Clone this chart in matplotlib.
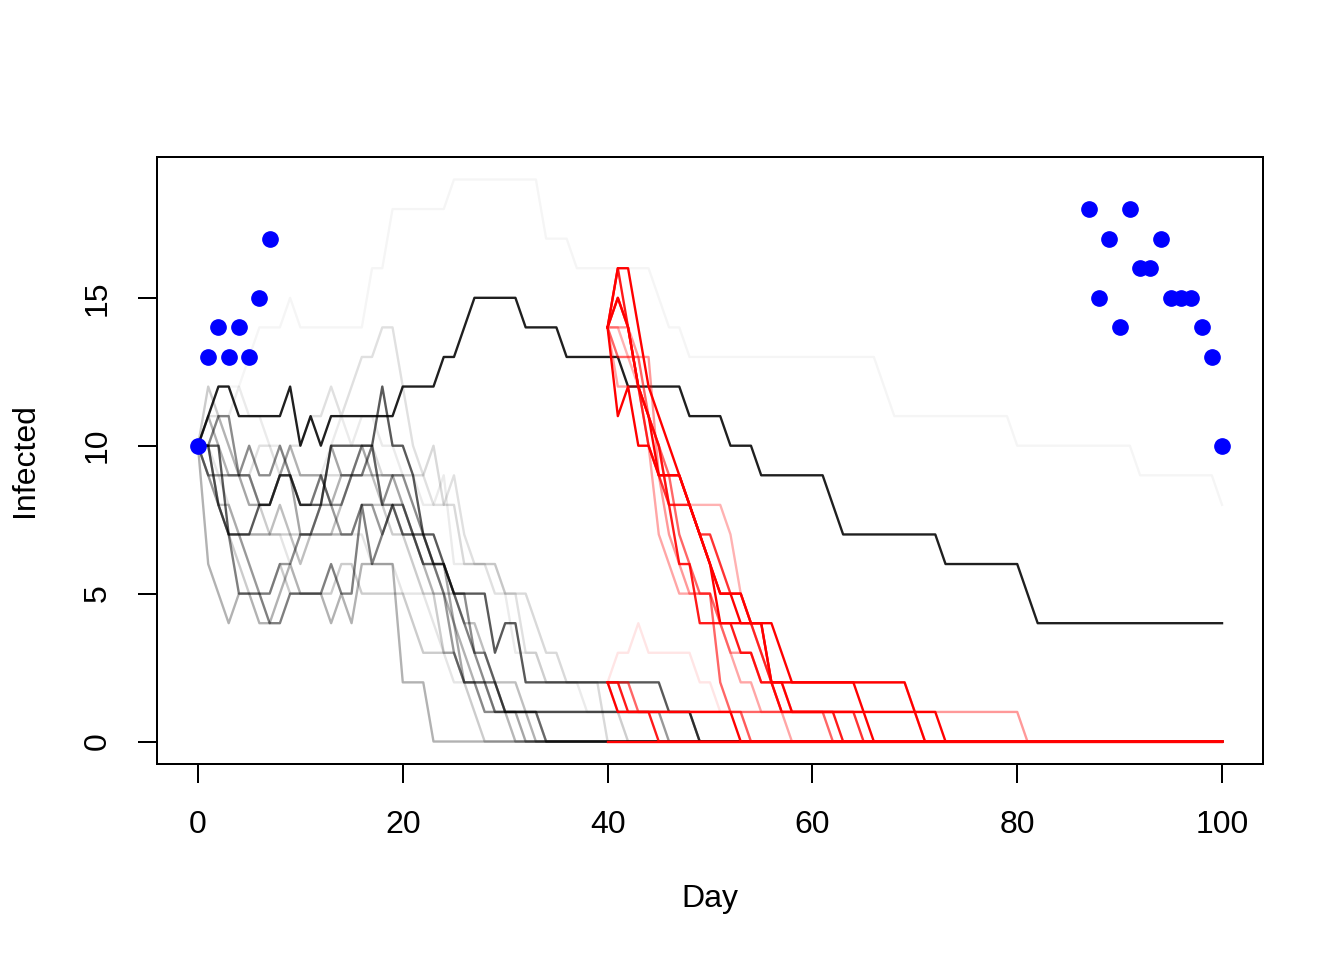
import numpy as np
import matplotlib
matplotlib.use("Agg")
import matplotlib.pyplot as plt

plt.rcParams['font.family'] = ['Liberation Sans', 'DejaVu Sans']

# observed counts (blue dots)
obs_days_early = [0, 1, 2, 3, 4, 5, 6, 7]
obs_vals_early = [10, 13, 14, 13, 14, 13, 15, 17]
obs_days_late = [87, 88, 89, 90, 91, 92, 93, 94, 95, 96, 97, 98, 99, 100]
obs_vals_late = [18, 15, 17, 14, 18, 16, 16, 17, 15, 15, 15, 14, 13, 10]

# best trajectory, days 0..100
best_run = [10, 11, 12, 12, 11, 11, 11, 11, 11, 12,
            10, 11, 10, 11, 11, 11, 11, 11, 11, 11,
            12, 12, 12, 12, 13, 13, 14, 15, 15, 15,
            15, 15, 14, 14, 14, 14, 13, 13, 13, 13,
            13, 13, 12, 12, 12, 12, 12, 12, 11, 11,
            11, 11, 10, 10, 10, 9, 9, 9, 9, 9,
            9, 9, 8, 7, 7, 7, 7, 7, 7, 7,
            7, 7, 7, 6, 6, 6, 6, 6, 6, 6,
            6, 5, 4, 4, 4, 4, 4, 4, 4, 4,
            4, 4, 4, 4, 4, 4, 4, 4, 4, 4, 4]

# very faint run that stays high, days 0..100
high_run = [10, 11, 12, 12, 12, 13, 14, 14, 14, 15,
            14, 14, 14, 14, 14, 14, 14, 16, 16, 18,
            18, 18, 18, 18, 18, 19, 19, 19, 19, 19,
            19, 19, 19, 19, 17, 17, 17, 16, 16, 16,
            16, 16, 16, 16, 16, 15, 14, 14, 13, 13,
            13, 13, 13, 13, 13, 13, 13, 13, 13, 13,
            13, 13, 13, 13, 13, 13, 13, 12, 11, 11,
            11, 11, 11, 11, 11, 11, 11, 11, 11, 11,
            10, 10, 10, 10, 10, 10, 10, 10, 10, 10,
            10, 10, 9, 9, 9, 9, 9, 9, 9, 9, 8]

# grey runs from day 0 (zero after the last value)
grey_runs = [
    [10, 10, 10, 7, 7, 7, 8, 8, 9, 9, 8, 8, 8, 10, 10, 10, 10, 10, 12, 10,
     10, 9, 7, 7, 6, 5, 5, 5, 5, 3, 4, 4, 2, 2, 2, 2, 2, 2, 2, 2,
     2, 2, 2, 2, 2, 2, 1, 1, 1, 0],
    [10, 10, 11, 11, 9, 10, 9, 9, 10, 9, 8, 8, 9, 8, 8, 9, 9, 10, 8, 9,
     9, 8, 7, 6, 6, 5, 5, 3, 2, 2, 1, 1, 1, 1, 0],
    [10, 10, 8, 7, 5, 5, 5, 4, 4, 5, 5, 5, 5, 6, 5, 5, 8, 6, 7, 8,
     7, 7, 7, 6, 6, 5, 4, 3, 3, 2, 1, 1, 1, 1, 1, 1, 1, 1, 1, 1,
     1, 1, 1, 1, 1, 1, 1, 1, 1, 0],
    [10, 9, 9, 9, 9, 8, 8, 8, 9, 9, 7, 7, 8, 10, 9, 9, 10, 9, 9, 9,
     8, 7, 6, 6, 6, 4, 2, 2, 2, 1, 1, 1, 0],
    [10, 6, 5, 4, 5, 5, 4, 4, 5, 6, 5, 5, 5, 4, 5, 4, 6, 6, 6, 6,
     2, 2, 2, 0],
    [10, 12, 11, 10, 9, 9, 8, 7, 7, 7, 7, 7, 7, 7, 7, 7, 8, 8, 8, 7,
     7, 6, 5, 5, 3, 3, 2, 2, 2, 2, 1, 0],
    [10, 9, 9, 9, 9, 9, 8, 8, 9, 9, 8, 8, 9, 9, 9, 9, 9, 10, 9, 9,
     9, 9, 9, 10, 8, 8, 6, 6, 6, 6, 5, 5, 5, 4, 3, 3, 2, 2, 2, 2, 0],
    [10, 11, 11, 10, 9, 9, 10, 10, 9, 10, 10, 11, 11, 12, 11, 12, 13, 13, 14, 14,
     12, 10, 9, 8, 8, 9, 7, 6, 6, 5, 5, 5, 3, 3, 2, 2, 2, 2, 2, 2,
     2, 1, 0],
    [10, 10, 9, 8, 7, 7, 7, 7, 7, 6, 7, 7, 7, 7, 7, 7, 7, 6, 6, 6,
     5, 5, 5, 4, 3, 2, 2, 2, 1, 1, 1, 0],
    [10, 9, 8, 8, 7, 7, 7, 7, 8, 7, 6, 7, 7, 7, 8, 9, 9, 9, 8, 8,
     8, 7, 7, 6, 5, 5, 4, 4, 3, 2, 2, 2, 1, 1, 0],
    [10, 10, 8, 7, 7, 6, 5, 5, 6, 6, 7, 7, 8, 8, 7, 7, 8, 8, 7, 8,
     8, 7, 6, 6, 5, 3, 2, 2, 1, 1, 1, 1, 1, 1, 1, 1, 1, 1, 1, 1,
     1, 1, 1, 1, 1, 1, 0],
    [10, 10, 11, 11, 12, 11, 11, 10, 10, 9, 9, 9, 9, 10, 11, 10, 11, 11, 10, 10,
     9, 9, 8, 8, 9, 6, 6, 6, 6, 6, 5, 3, 3, 3, 2, 2, 2, 2, 1, 1,
     1, 1, 0],
    [10, 9, 8, 7, 6, 5, 5, 5, 6, 5, 5, 5, 5, 5, 6, 6, 5, 5, 5, 5,
     5, 4, 3, 3, 3, 3, 2, 1, 0],
    [10, 11, 10, 9, 9, 9, 8, 8, 9, 10, 9, 9, 9, 8, 9, 9, 10, 10, 8, 8,
     7, 7, 6, 5, 5, 4, 3, 2, 2, 1, 1, 1, 1, 0],
]
grey_alpha = [0.65, 0.45, 0.5, 0.35, 0.3, 0.2, 0.15, 0.12, 0.1, 0.25, 0.4, 0.08, 0.2, 0.3]

# red runs restarted at day 40
red_runs = [
    [0],
    [14, 16, 16, 14, 12, 11, 10, 9, 8, 7, 6, 5, 5, 4, 4, 4, 4, 3, 2, 2,
     2, 2, 2, 2, 2, 2, 2, 2, 2, 2, 1, 1, 1, 0],
    [14, 11, 12, 10, 10, 9, 9, 9, 8, 7, 6, 4, 4, 4, 4, 4, 2, 2, 2, 2,
     2, 2, 2, 2, 2, 1, 1, 1, 1, 1, 1, 0],
    [14, 15, 14, 12, 11, 9, 9, 9, 8, 7, 6, 5, 5, 5, 4, 4, 2, 2, 1, 1,
     1, 1, 1, 1, 1, 1, 0],
    [14, 16, 14, 12, 11, 10, 8, 6, 6, 4, 4, 4, 4, 3, 3, 2, 2, 1, 1, 1,
     1, 1, 1, 0],
    [14, 15, 14, 12, 10, 9, 8, 8, 8, 7, 7, 6, 5, 5, 4, 3, 2, 1, 1, 1,
     1, 1, 1, 1, 1, 0],
    [14, 13, 13, 13, 11, 10, 9, 7, 6, 5, 5, 2, 1, 1, 1, 1, 1, 1, 1, 1,
     1, 1, 0],
    [14, 14, 14, 13, 13, 9, 7, 6, 5, 5, 5, 4, 3, 3, 3, 2, 2, 2, 1, 1,
     1, 1, 1, 1, 1, 1, 1, 1, 1, 1, 1, 1, 1, 1, 1, 1, 1, 1, 1, 1,
     1, 0],
    [14, 12, 12, 12, 10, 7, 6, 5, 5, 5, 5, 4, 3, 2, 2, 1, 1, 1, 0],
    [14, 14, 13, 12, 11, 10, 8, 8, 8, 8, 8, 8, 7, 5, 4, 3, 2, 2, 2, 2,
     2, 2, 2, 2, 2, 2, 2, 2, 2, 2, 1, 0],
    [2, 2, 1, 1, 1, 0],
    [2, 2, 2, 1, 1, 1, 1, 1, 1, 1, 1, 1, 1, 1, 0],
    [2, 3, 3, 4, 3, 3, 3, 3, 3, 2, 2, 1, 1, 1, 0],
    [2, 1, 1, 1, 1, 1, 1, 1, 1, 1, 1, 1, 1, 0],
]
red_alpha = [1.0, 1.0, 1.0, 1.0, 0.9, 0.8, 0.6, 0.4, 0.35, 0.3, 0.9, 0.6, 0.1, 1.0]

days = np.arange(0, 101)
red_start = 40


def pad(run, n):
    return np.concatenate([run, np.zeros(n - len(run))])


lw = 1.7
fig = plt.figure(figsize=(13.44, 9.6), dpi=100)
ax = fig.add_axes([157/1344, 1-764/960, (1263-157)/1344, (764-157)/960])

for run, a in zip(grey_runs, grey_alpha):
    ax.plot(days, pad(run, len(days)), color='black', alpha=a, lw=lw)
ax.plot(days, high_run, color='black', alpha=0.04, lw=lw)
ax.plot(days, best_run, color='black', alpha=0.88, lw=lw)

red_days = np.arange(red_start, 101)
for run, a in zip(red_runs, red_alpha):
    ax.plot(red_days, pad(run, len(red_days)), color='red', alpha=a, lw=lw)

ax.plot(obs_days_early + obs_days_late, obs_vals_early + obs_vals_late,
        'o', color='blue', ms=11, zorder=5)

ax.set_xlim(-4, 104)
ax.set_ylim(-0.76, 19.76)
ax.set_xticks([0, 20, 40, 60, 80, 100])
ax.set_yticks([0, 5, 10, 15])
ax.set_yticklabels(['0', '5', '10', '15'], rotation=90, va='center')
ax.tick_params(length=13.8, width=1.44, labelsize=23, color='black')
ax.tick_params(axis='x', pad=19)
ax.tick_params(axis='y', pad=18)
for s in ax.spines.values():
    s.set_linewidth(1.44)

fig.text(710/1344, 1-899/960, 'Day', ha='center', va='center', fontsize=23)
fig.text(25/1344, 1-460/960, 'Infected', ha='center', va='center',
         rotation=90, fontsize=23)

fig.savefig('out.png', dpi=100)
